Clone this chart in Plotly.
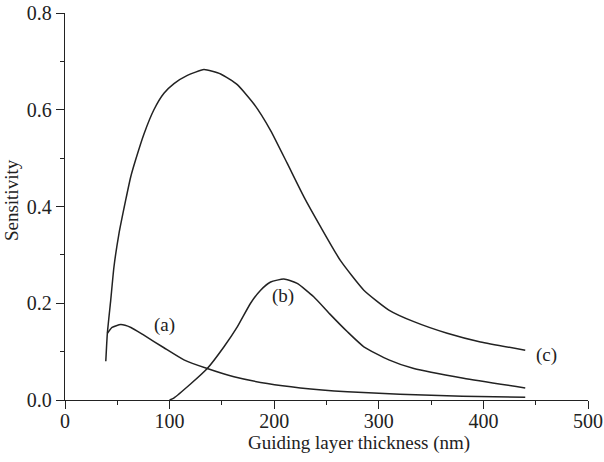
import plotly.graph_objects as go

# Curve (c)
xc = [39, 40.5, 43.7, 46.8, 51.6, 58.0, 62.8, 67.6, 75.5, 85.0, 94.6, 104.2, 117.0, 132.8,
      148.8, 164.7, 180.6, 196.6, 212.5, 228.4, 244.4, 263.4, 285.7, 309.6, 333.5, 365.4,
      397.2, 440]
yc = [0.080, 0.138, 0.206, 0.275, 0.344, 0.413, 0.461, 0.497, 0.550, 0.600, 0.634, 0.654, 0.671,
      0.683, 0.674, 0.652, 0.612, 0.557, 0.489, 0.420, 0.358, 0.288, 0.227, 0.186, 0.162, 0.138,
      0.120, 0.103]

# Curve (a)
xa = [40.5, 45, 53.3, 63, 75.4, 94.6, 113.7, 136, 161.5, 193.4, 225, 270, 320, 380, 440]
ya = [0.138, 0.150, 0.156, 0.150, 0.134, 0.108, 0.083, 0.065, 0.048, 0.034, 0.025, 0.017, 0.012,
      0.008, 0.0055]

# Curve (b)
xb = [100, 104, 120, 136, 152, 164.7, 177.4, 187, 196.6, 209.3, 222, 238, 254, 270, 285.7,
      309.6, 333.5, 381, 440]
yb = [0.0, 0.004, 0.033, 0.065, 0.110, 0.151, 0.200, 0.227, 0.244, 0.250, 0.241, 0.213, 0.176,
      0.141, 0.110, 0.083, 0.065, 0.045, 0.025]

labels = ["(a)", "(b)", "(c)"]
label_x = [95, 208, 460]
label_y = [0.155, 0.215, 0.093]

FONT = "Liberation Serif, Times New Roman, serif"
LC = "#222222"

fig = go.Figure()
for xs, ys in [(xc, yc), (xa, ya), (xb, yb)]:
    fig.add_trace(go.Scatter(x=xs, y=ys, mode="lines",
                             line=dict(color=LC, width=1.5, shape="spline", smoothing=0.5),
                             showlegend=False, hoverinfo="skip"))

for t, lx, ly in zip(labels, label_x, label_y):
    fig.add_annotation(x=lx, y=ly, text=t, showarrow=False,
                       font=dict(family=FONT, size=19, color=LC))

fig.add_annotation(xref="paper", yref="paper", x=0.562, y=-0.112, text="Guiding layer thickness (nm)",
                   showarrow=False, xanchor="center", yanchor="middle",
                   font=dict(family=FONT, size=19, color=LC))
fig.add_annotation(xref="paper", yref="paper", x=-0.101, y=0.517, text="Sensitivity",
                   showarrow=False, textangle=-90, xanchor="center", yanchor="middle",
                   font=dict(family=FONT, size=19, color=LC))

axis_common = dict(showgrid=False, zeroline=False, showline=True, linecolor=LC, linewidth=1.3,
                   ticks="outside", tickcolor=LC, tickwidth=1.3, ticklen=8, automargin=False,
                   tickfont=dict(family=FONT, size=20, color=LC))

fig.update_layout(
    width=604, height=462,
    margin=dict(l=65, r=16, t=13, b=62),
    paper_bgcolor="white", plot_bgcolor="white",
    xaxis=dict(range=[0, 500], dtick=100, tick0=0, ticklabelstandoff=-5,
               minor=dict(dtick=50, ticklen=4, tickcolor=LC, ticks="outside", showgrid=False),
               **axis_common),
    yaxis=dict(range=[0, 0.8], dtick=0.2, tick0=0, tickformat=".1f",
               minor=dict(dtick=0.1, ticklen=4, tickcolor=LC, ticks="outside", showgrid=False),
               **axis_common),
)

# remove the browser's default 8px body margin so the figure sits at the page origin
fig.write_html("out.html", config={"displayModeBar": False},
               post_script="document.body.style.margin='0';")
